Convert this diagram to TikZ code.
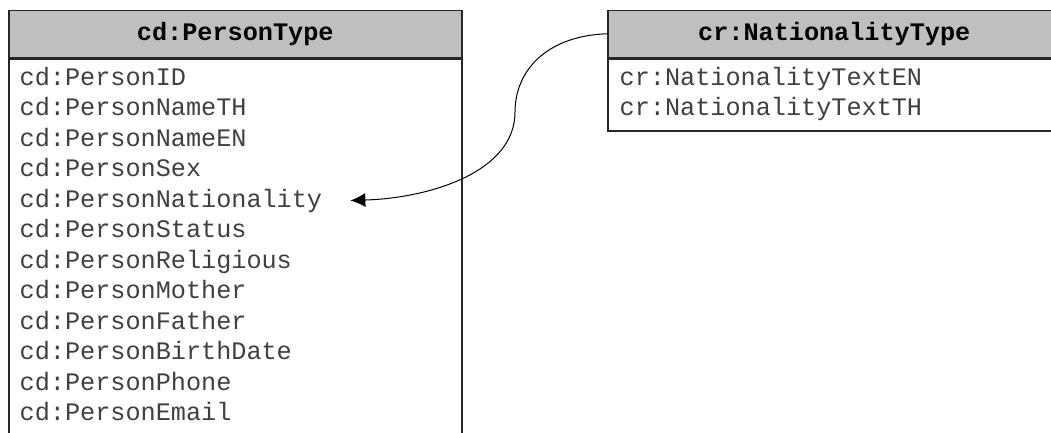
\documentclass[tikz,border=0pt]{standalone}
\usepackage{fontspec}
\setmonofont{Liberation Mono}
\usetikzlibrary{arrows.meta}
\usetikzlibrary{calc}
\tikzstyle{typehead} = [rectangle, draw=black!85, line width=1.5pt, fill=black!25, minimum width=453pt, text centered, inner sep=4pt, font={\ttfamily\bfseries\fontsize{25.2}{28}\selectfont}]
\tikzstyle{typebody} = [rectangle, draw=black!85, line width=1.5pt, fill=white, minimum width=453pt]
\tikzstyle{fieldtext} = [inner sep=0pt, text=black!75, font={\ttfamily\fontsize{25.2}{28}\selectfont}]

\begin{document}
\begin{tikzpicture}[x=1pt,y=-1pt]
		% frame of the picture
		\useasboundingbox (0,0) rectangle (1051,432);
		\clip (0,0) rectangle (1051,432);
		% person type
		\node [typehead, minimum height=47pt, anchor=north west] (personhead) at (8,9.5) {cd:PersonType};
		\node [typebody, minimum height=400pt, anchor=north] (personbody) at (personhead.south) {};
		\foreach \f [count=\i from 0] in {PersonID,PersonNameTH,PersonNameEN,PersonSex,PersonNationality,PersonStatus,PersonReligious,PersonMother,PersonFather,PersonBirthDate,PersonPhone,PersonEmail}
			\node [fieldtext, anchor=base west] (\f) at (19.5,{85+\i*30.5}) {cd:\f};
		% nationality type
		\node [typehead, minimum height=47pt, anchor=north west] (nathead) at (607,9.5) {cr:NationalityType};
		\node [typebody, minimum height=72pt, anchor=north] (natbody) at (nathead.south) {};
		\node [fieldtext, anchor=base west] (NationalityTextEN) at (619.5,85) {cr:NationalityTextEN};
		\node [fieldtext, anchor=base west] (NationalityTextTH) at (619.5,115.5) {cr:NationalityTextTH};
		% link
		\draw [line width=1pt, -{Latex[length=15pt, width=14pt]}] (nathead.west) .. controls (545,36) and (515,72) .. (515,112) .. controls (515,172) and (430,198) .. ([xshift=28pt]PersonNationality.east);
	\end{tikzpicture}
\end{document}
